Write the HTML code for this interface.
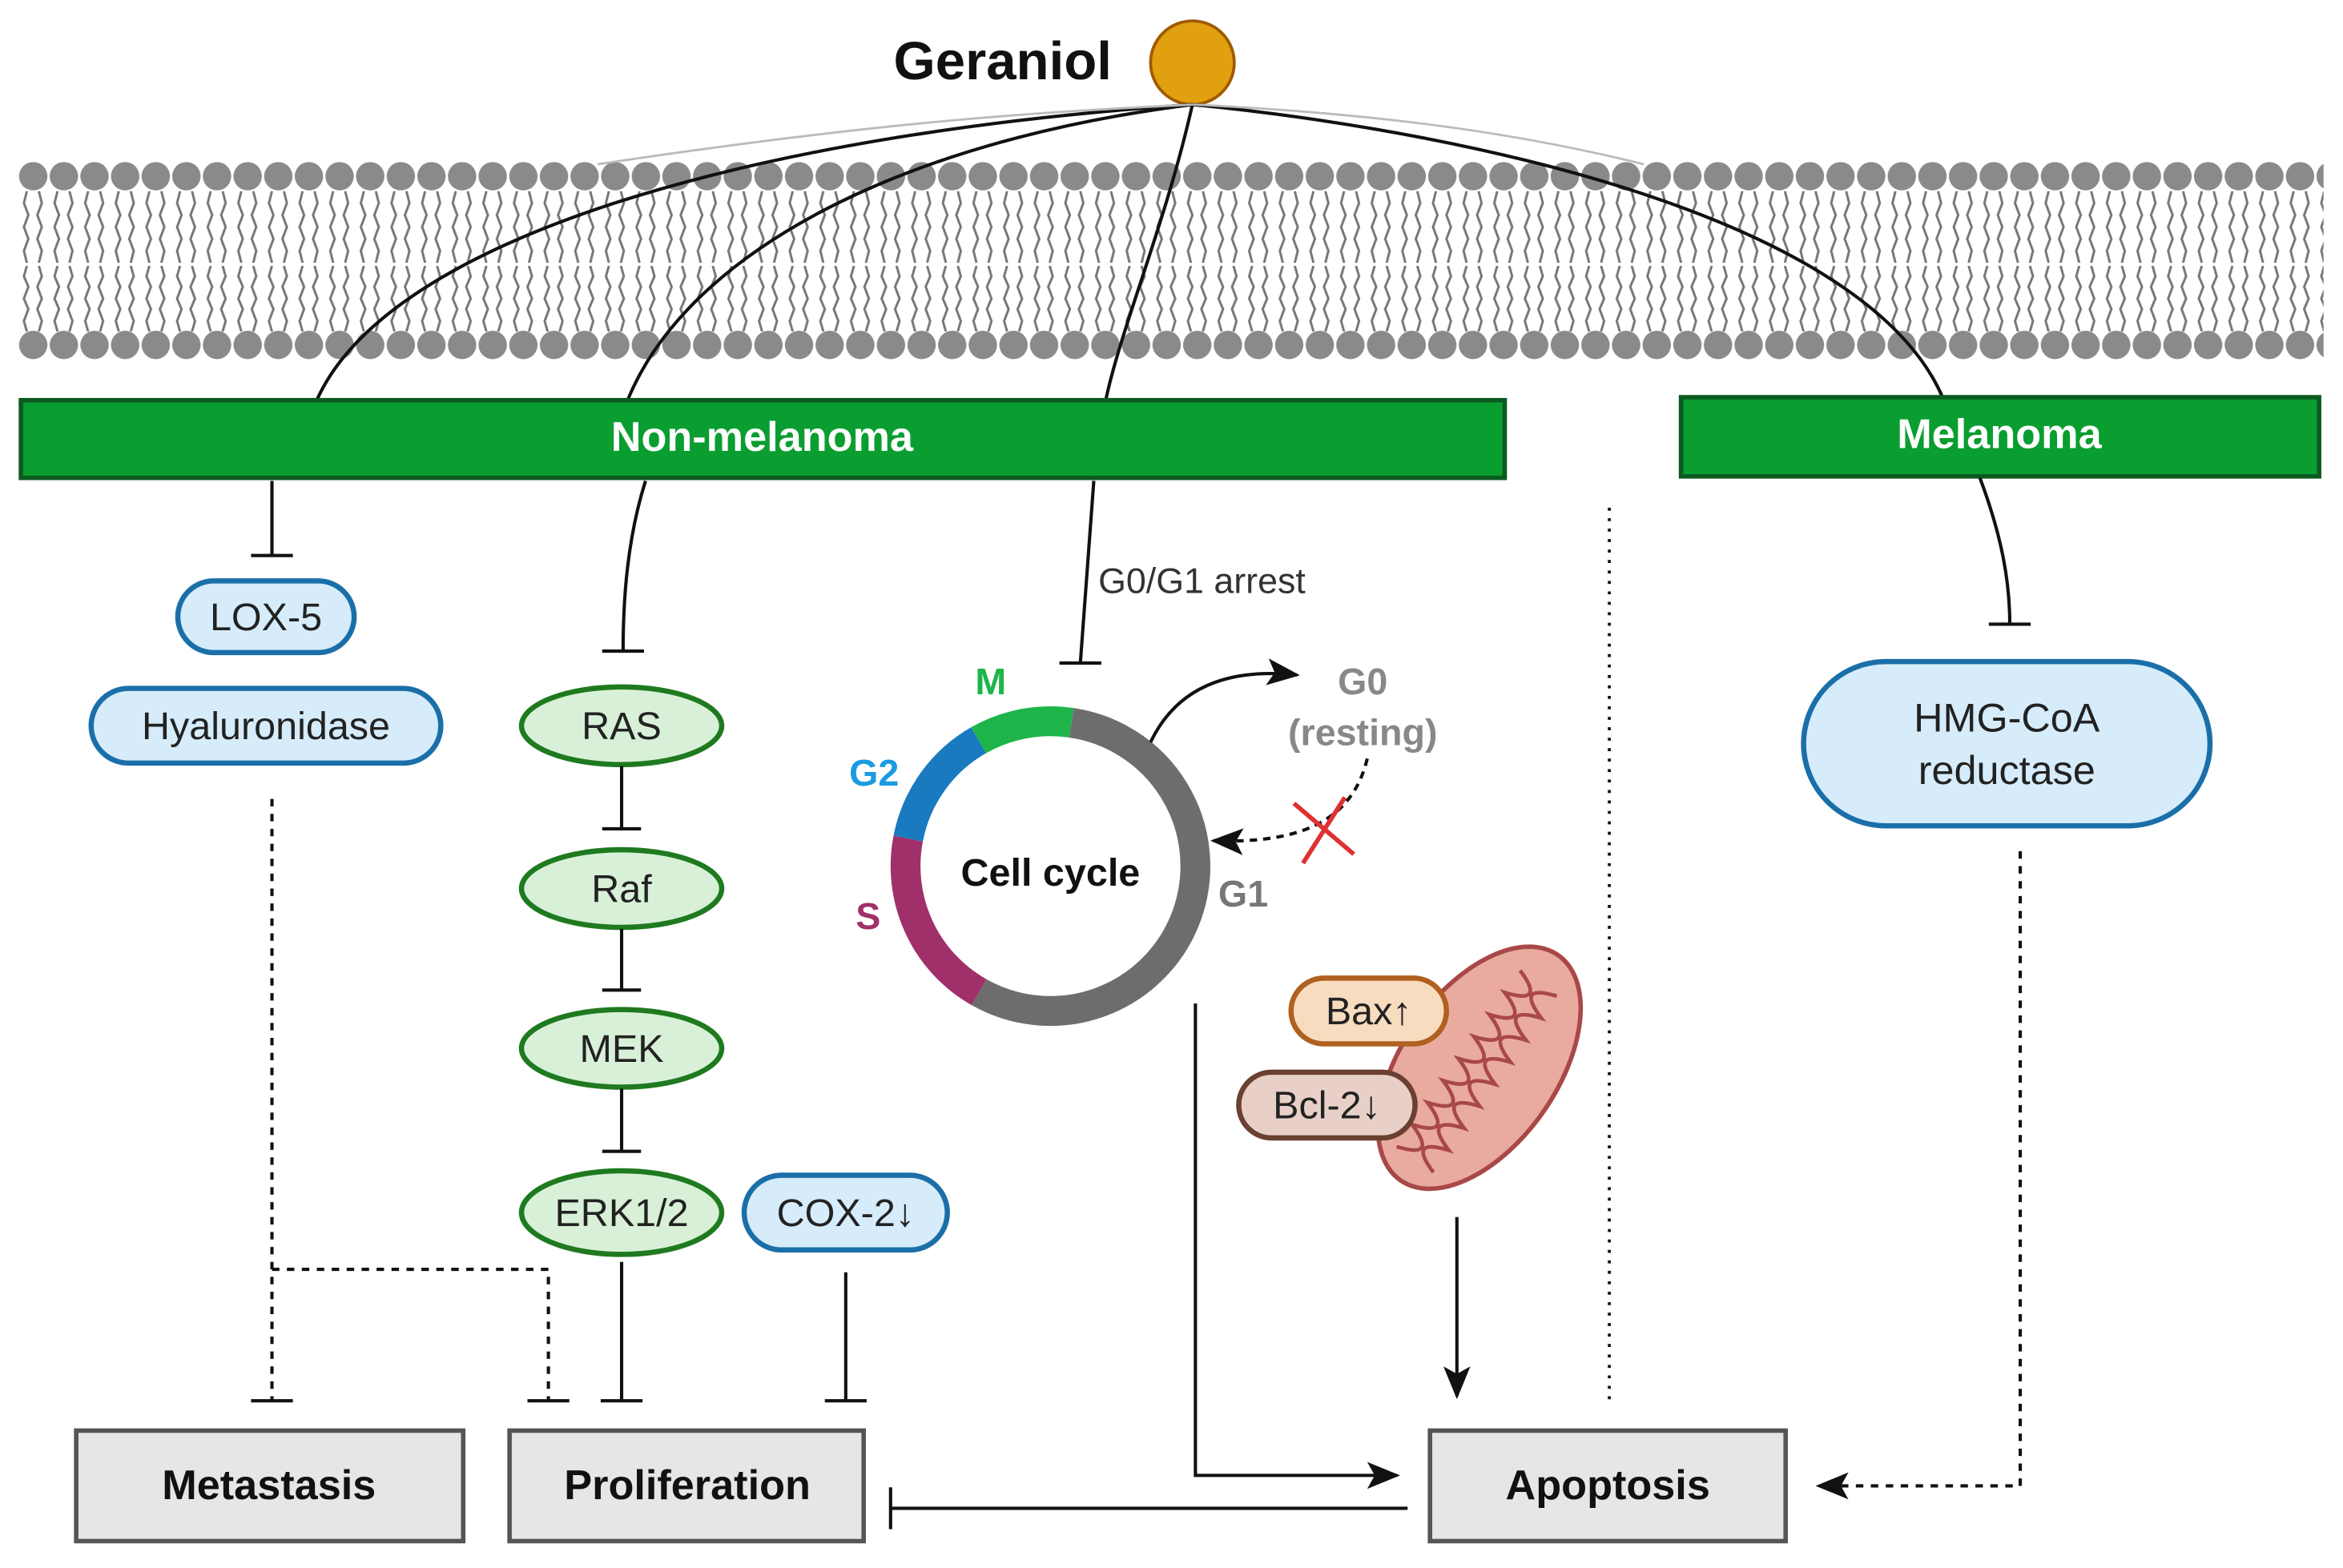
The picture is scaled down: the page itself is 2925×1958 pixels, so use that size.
<!DOCTYPE html>
<html><head><meta charset="utf-8"><style>
html,body{margin:0;padding:0;background:#fff}
svg{display:block}
text{font-family:"Liberation Sans",sans-serif}
</style></head><body>
<svg width="2925" height="1958" viewBox="0 0 1568 1050" preserveAspectRatio="none" xmlns="http://www.w3.org/2000/svg">
<defs>
<pattern id="tails1" x="12" y="128" width="20.5" height="48" patternUnits="userSpaceOnUse">
<path d="M6,0 l-2,8 l3,8 l-3,8 l3,8 l-3,8 l2,8 M14,0 l2,8 l-3,8 l3,8 l-3,8 l3,8 l-2,8" fill="none" stroke="#777" stroke-width="1.6"/>
</pattern>
<pattern id="tails2" x="12" y="178" width="20.5" height="44" patternUnits="userSpaceOnUse">
<path d="M6,0 l-2,7 l3,7 l-3,8 l3,7 l-3,8 l2,7 M14,0 l2,7 l-3,7 l3,8 l-3,7 l3,8 l-2,7" fill="none" stroke="#777" stroke-width="1.6"/>
</pattern>
<pattern id="heads" x="12" y="0" width="20.5" height="1050" patternUnits="userSpaceOnUse">
<circle cx="10.25" cy="118" r="9.5" fill="#8a8a8a"/>
<circle cx="10.25" cy="231" r="9.5" fill="#8a8a8a"/>
</pattern>
<marker id="ahs" markerWidth="22" markerHeight="22" refX="20" refY="11" orient="auto" markerUnits="userSpaceOnUse" viewBox="0 0 22 22"><path d="M0,2 L22,11 L0,20 L5,11 z" fill="#111"/></marker>
</defs>

<rect x="12" y="128" width="1543" height="48" fill="url(#tails1)"/>
<rect x="12" y="178" width="1543" height="44" fill="url(#tails2)"/>
<rect x="12" y="100" width="1543" height="145" fill="url(#heads)"/>

<text x="598" y="53" font-size="36" font-weight="bold" fill="#111">Geraniol</text>
<circle cx="798" cy="42" r="28" fill="#e0a010" stroke="#a05a00" stroke-width="2"/>

<g fill="none" stroke="#111" stroke-width="2.2">
<path d="M798,70 C500,90 260,160 212,268"/>
<path d="M798,70 C600,95 460,170 420,268"/>
<path d="M798,70 C780,150 750,220 740,268"/>
<path d="M798,70 C1000,90 1250,150 1300,266"/>
<path d="M798,70 C700,75 600,80 400,110" stroke="#bbb" stroke-width="1.5"/>
<path d="M798,70 C900,75 1000,85 1100,110" stroke="#bbb" stroke-width="1.5"/>
</g>

<rect x="14" y="268" width="993" height="52" fill="#0a9e30" stroke="#0b5a1f" stroke-width="3"/>
<text x="510" y="302" font-size="28" font-weight="bold" fill="#fff" text-anchor="middle">Non-melanoma</text>
<rect x="1125" y="266" width="427" height="53" fill="#0a9e30" stroke="#0b5a1f" stroke-width="3"/>
<text x="1338" y="300" font-size="28" font-weight="bold" fill="#fff" text-anchor="middle">Melanoma</text>

<g fill="none" stroke="#111" stroke-width="2.2">
<path d="M182,322 L182,372 M168,372 L196,372"/>
<path d="M432,322 C420,360 417,400 417,436 M403,436 L431,436"/>
<path d="M732,322 L723,444 M709,444 L737,444"/>
<path d="M1325,320 C1340,360 1345,390 1345,418 M1331,418 L1359,418"/>
</g>
<text x="735" y="397" font-size="24" fill="#333">G0/G1 arrest</text>

<rect x="119" y="389" width="118" height="48" rx="24" fill="#d6ecfa" stroke="#1b6fa8" stroke-width="3.5"/>
<text x="178" y="422" font-size="26" text-anchor="middle" fill="#222">LOX-5</text>
<rect x="61" y="461" width="234" height="50" rx="25" fill="#d6ecfa" stroke="#1b6fa8" stroke-width="3.5"/>
<text x="178" y="495" font-size="26" text-anchor="middle" fill="#222">Hyaluronidase</text>

<g stroke="#1f7a1f" stroke-width="3.5" fill="#d8f0d8">
<ellipse cx="416" cy="486" rx="67" ry="26"/>
<ellipse cx="416" cy="595" rx="67" ry="26"/>
<ellipse cx="416" cy="702" rx="67" ry="26"/>
<ellipse cx="416" cy="812" rx="67" ry="28"/>
</g>
<g font-size="26" text-anchor="middle" fill="#222">
<text x="416" y="495">RAS</text>
<text x="416" y="604">Raf</text>
<text x="416" y="711">MEK</text>
<text x="416" y="821">ERK1/2</text>
</g>
<g stroke="#111" stroke-width="2.2" fill="none">
<path d="M416,513 L416,555 M403,555 L429,555"/>
<path d="M416,622 L416,663 M403,663 L429,663"/>
<path d="M416,729 L416,771 M403,771 L429,771"/>
</g>
<rect x="498" y="787" width="136" height="50" rx="25" fill="#d6ecfa" stroke="#1b6fa8" stroke-width="3.5"/>
<text x="566" y="821" font-size="26" text-anchor="middle" fill="#222">COX-2↓</text>

<g fill="none" stroke-width="20">
<path d="M717,484 A97,97 0 1 1 655.2,664.4" stroke="#6d6d6d"/>
<path d="M655.2,664.4 A97,97 0 0 1 607.8,561.5" stroke="#a0306a"/>
<path d="M607.8,561.5 A97,97 0 0 1 654.9,495.7" stroke="#1a7ac0"/>
<path d="M654.9,495.7 A97,97 0 0 1 717,484" stroke="#1db54a"/>
</g>
<text x="703" y="593" font-size="26" font-weight="bold" text-anchor="middle" fill="#111">Cell cycle</text>
<text x="663" y="465" font-size="25" font-weight="bold" text-anchor="middle" fill="#1db54a">M</text>
<text x="585" y="526" font-size="25" font-weight="bold" text-anchor="middle" fill="#1a9ae0">G2</text>
<text x="581" y="622" font-size="25" font-weight="bold" text-anchor="middle" fill="#a0306a">S</text>
<text x="832" y="607" font-size="25" font-weight="bold" text-anchor="middle" fill="#777">G1</text>
<path d="M770,497 C790,455 830,448 868,452" fill="none" stroke="#111" stroke-width="2.2" marker-end="url(#ahs)"/>
<text x="912" y="465" font-size="25" font-weight="bold" text-anchor="middle" fill="#888">G0</text>
<text x="912" y="499" font-size="25" font-weight="bold" text-anchor="middle" fill="#888">(resting)</text>
<path d="M915,508 C905,550 870,565 812,563" fill="none" stroke="#111" stroke-width="2.2" stroke-dasharray="5,4" marker-end="url(#ahs)"/>
<path d="M866,538 L906,572 M900,534 L872,578" stroke="#e03030" stroke-width="3"/>

<g transform="rotate(-55 990 715)">
<ellipse cx="990" cy="715" rx="92" ry="52" fill="#e9aaa0" stroke="#a84848" stroke-width="3"/>
<path d="M915,700 q9,28 18,0 q9,28 18,0 q9,28 18,0 q9,28 18,0 q9,28 18,0 q9,28 18,0 q9,28 18,0 q9,28 18,0 M915,730 q9,-28 18,0 q9,-28 18,0 q9,-28 18,0 q9,-28 18,0 q9,-28 18,0 q9,-28 18,0 q9,-28 18,0 q9,-28 18,0" fill="none" stroke="#a84848" stroke-width="2.5"/>
</g>
<rect x="864" y="655" width="104" height="44" rx="22" fill="#f8dcc0" stroke="#b06020" stroke-width="3.5"/>
<text x="916" y="686" font-size="26" text-anchor="middle" fill="#222">Bax↑</text>
<rect x="829" y="718" width="118" height="44" rx="22" fill="#e8d0c8" stroke="#6a4030" stroke-width="3.5"/>
<text x="888" y="749" font-size="26" text-anchor="middle" fill="#222">Bcl-2↓</text>

<rect x="1207" y="443" width="272" height="110" rx="55" fill="#d6ecfa" stroke="#1b6fa8" stroke-width="3.5"/>
<text x="1343" y="490" font-size="27" text-anchor="middle" fill="#222">HMG-CoA</text>
<text x="1343" y="525" font-size="27" text-anchor="middle" fill="#222">reductase</text>

<g fill="#e6e6e6" stroke="#555" stroke-width="3">
<rect x="51" y="958" width="259" height="74"/>
<rect x="341" y="958" width="237" height="74"/>
<rect x="957" y="958" width="238" height="74"/>
</g>
<g font-size="28" font-weight="bold" text-anchor="middle" fill="#111">
<text x="180" y="1004">Metastasis</text>
<text x="460" y="1004">Proliferation</text>
<text x="1076" y="1004">Apoptosis</text>
</g>

<g fill="none" stroke="#111" stroke-width="2.2">
<path d="M182,535 L182,938" stroke-dasharray="5,5"/>
<path d="M168,938 L196,938"/>
<path d="M182,850 L367,850 L367,938" stroke-dasharray="5,5"/>
<path d="M353,938 L381,938"/>
<path d="M416,845 L416,938 M402,938 L430,938"/>
<path d="M566,852 L566,938 M552,938 L580,938"/>
<path d="M800,672 L800,988 L935,988" marker-end="url(#ahs)"/>
<path d="M975,815 L975,935" marker-end="url(#ahs)"/>
<path d="M1077,340 L1077,940" stroke-dasharray="2,5" stroke-width="2"/>
<path d="M1352,570 L1352,995 L1217,995" stroke-dasharray="5,5" marker-end="url(#ahs)"/>
<path d="M942,1010 L596,1010 M596,996 L596,1024"/>
</g>
</svg>
</body></html>
